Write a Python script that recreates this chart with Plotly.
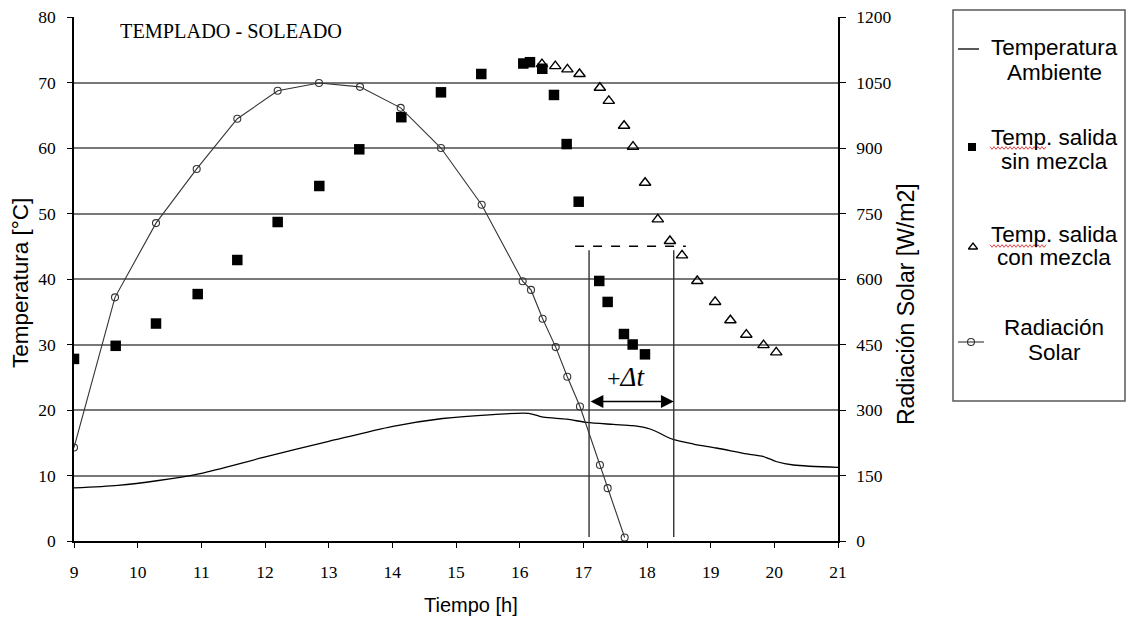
import plotly.graph_objects as go

# ---- data -------------------------------------------------------------
# Temperatura ambiente (line)
amb_h = [9.0, 9.69, 10.30, 10.98, 11.99, 13.0, 14.01, 14.79, 15.58, 16.14, 16.37,
         16.74, 17.05, 17.47, 17.78, 18.05, 18.41, 18.73, 19.09, 19.57, 19.83,
         20.04, 20.30, 21.0]
amb_T = [8.1, 8.5, 9.2, 10.3, 12.8, 15.2, 17.5, 18.7, 19.3, 19.5, 18.9,
         18.6, 18.1, 17.8, 17.6, 17.1, 15.5, 14.8, 14.2, 13.3, 12.9,
         12.1, 11.6, 11.25]

# Temp. salida sin mezcla (filled squares)
sin_h = [9.0, 9.655, 10.288, 10.943, 11.565, 12.199, 12.853, 13.481, 14.141,
         14.764, 15.397, 16.057, 16.162, 16.355, 16.539, 16.738, 16.927,
         17.25, 17.382, 17.638, 17.775, 17.968]
sin_T = [27.8, 29.8, 33.2, 37.7, 42.9, 48.7, 54.2, 59.8, 64.7,
         68.5, 71.3, 72.9, 73.1, 72.1, 68.1, 60.6, 51.8,
         39.7, 36.5, 31.6, 30.0, 28.5]

# Temp. salida con mezcla (open triangles)
con_h = [16.35, 16.56, 16.75, 16.94, 17.26, 17.40, 17.64, 17.78, 17.97,
         18.17, 18.36, 18.55, 18.79, 19.07, 19.31, 19.56, 19.83, 20.03]
con_T = [72.8, 72.5, 72.0, 71.3, 69.2, 67.2, 63.4, 60.2, 54.7,
         49.1, 45.8, 43.6, 39.7, 36.5, 33.7, 31.5, 29.9, 28.8]

# Radiacion solar [W/m2] (right axis)
rad_h = [9.0, 9.644, 10.288, 10.927, 11.565, 12.199, 12.848, 13.492, 14.131,
         14.764, 15.403, 16.047, 16.178, 16.361, 16.566, 16.748, 16.947,
         17.261, 17.382, 17.649]
rad_W = [214, 558, 728, 852, 967, 1031, 1049, 1040, 992,
         900, 770, 595, 575, 509, 444, 376, 308,
         174, 121, 8]

x_ticks = list(range(9, 22))
y_ticks = list(range(0, 81, 10))
y2_ticks = list(range(0, 1201, 150))

# Delta-t construction
dt_start, dt_end = 17.09, 18.42
dt_level = 45.0
dt_dash_from, dt_dash_to = 16.87, 18.61
dt_arrow_T = 21.3

# ---- layout geometry (pixels) ----------------------------------------
W, H = 1128, 620
PX0, PX1 = 74, 838
PY_TOP, PY_BOT = 17, 541

SERIF = "Liberation Serif, Times New Roman, serif"
SANS = "Liberation Sans, Arial, sans-serif"

fig = go.Figure()

fig.add_trace(go.Scatter(
    x=amb_h, y=amb_T, mode="lines", name="Temperatura Ambiente",
    line=dict(color="black", width=1.3, shape="spline", smoothing=0.8),
))
fig.add_trace(go.Scatter(
    x=rad_h, y=rad_W, mode="lines+markers", name="Radiación Solar", yaxis="y2",
    line=dict(color="#333333", width=1.1),
    marker=dict(symbol="circle-open", size=7, color="#333333", line=dict(width=1.1)),
))
fig.add_trace(go.Scatter(
    x=con_h, y=con_T, mode="markers", name="Temp. salida con mezcla",
    marker=dict(symbol="triangle-up-open", size=10, color="black", line=dict(width=1.4)),
))
fig.add_trace(go.Scatter(
    x=sin_h, y=sin_T, mode="markers", name="Temp. salida sin mezcla",
    marker=dict(symbol="square", size=10.5, color="black", line=dict(width=0)),
))

# ---- legend panel drawn on a pixel-mapped helper axis -----------------
LX0 = 940
fig.add_trace(go.Scatter(
    x=[972], y=[147], mode="markers", xaxis="x3", yaxis="y3",
    marker=dict(symbol="square", size=8, color="black"), hoverinfo="skip",
))
fig.add_trace(go.Scatter(
    x=[973], y=[247], mode="markers", xaxis="x3", yaxis="y3",
    marker=dict(symbol="triangle-up-open", size=8, color="black", line=dict(width=1.3)),
    hoverinfo="skip",
))
fig.add_trace(go.Scatter(
    x=[958, 971, 984], y=[342, 342, 342], mode="lines", xaxis="x3", yaxis="y3",
    line=dict(color="#333333", width=1.1), hoverinfo="skip",
))
fig.add_trace(go.Scatter(
    x=[971], y=[342], mode="markers", xaxis="x3", yaxis="y3",
    marker=dict(symbol="circle-open", size=7, color="#333333", line=dict(width=1.1)),
    hoverinfo="skip",
))

shapes = []
# legend frame
shapes.append(dict(type="rect", xref="x3", yref="y3", x0=953, x1=1125, y0=10, y1=401,
                   line=dict(color="#5a5a5a", width=1.5)))
# legend sample for the ambient line
shapes.append(dict(type="line", xref="x3", yref="y3", x0=958, x1=979, y0=49, y1=49,
                   line=dict(color="black", width=1.3)))


def squiggle(x0, x1, y, amp=1.3, step=2.0):
    pts = []
    x = x0
    k = 0
    while x <= x1:
        pts.append((x, y + (amp if k % 2 else -amp)))
        x += step
        k += 1
    return "M " + " L ".join(f"{px:.1f},{py:.1f}" for px, py in pts)


for yy in (148, 246):
    shapes.append(dict(type="path", xref="x3", yref="y3", path=squiggle(990, 1046, yy),
                       line=dict(color="#e03030", width=0.9)))

# delta-t construction on the data axes
shapes.append(dict(type="line", xref="x", yref="y", x0=dt_dash_from, x1=dt_dash_to,
                   y0=dt_level, y1=dt_level, line=dict(color="black", width=1.6, dash="dash")))
for xv in (dt_start, dt_end):
    shapes.append(dict(type="line", xref="x", yref="y", x0=xv, x1=xv, y0=0.6, y1=44.4,
                       line=dict(color="#333333", width=1.4)))

annotations = []
# legend texts
legend_lines = [
    ("Temperatura", 47), ("Ambiente", 72),
    ("Temp. salida", 137), ("sin mezcla", 161),
    ("Temp. salida", 234), ("con mezcla", 257),
    ("Radiación", 327), ("Solar", 352),
]
for txt, yy in legend_lines:
    annotations.append(dict(text=txt, xref="x3", yref="y3", x=1054, y=yy,
                            xanchor="center", yanchor="middle", showarrow=False,
                            font=dict(family=SANS, size=22.5, color="black")))

# chart label
annotations.append(dict(text="TEMPLADO - SOLEADO", xref="paper", yref="paper",
                        x=118 / W, y=(H - 31) / H, xanchor="left", yanchor="middle",
                        showarrow=False, font=dict(family=SERIF, size=20.3, color="black")))

# axis titles
annotations.append(dict(text="Temperatura [°C]", xref="paper", yref="paper",
                        x=20 / W, y=(H - 283) / H, textangle=-90, showarrow=False,
                        xanchor="center", yanchor="middle",
                        font=dict(family=SANS, size=22.5, color="black")))
annotations.append(dict(text="Radiación Solar [W/m2]", xref="paper", yref="paper",
                        x=906 / W, y=(H - 304) / H, textangle=-90, showarrow=False,
                        xanchor="center", yanchor="middle",
                        font=dict(family=SANS, size=23, color="black")))
annotations.append(dict(text="Tiempo [h]", xref="paper", yref="paper",
                        x=471 / W, y=(H - 605) / H, showarrow=False,
                        xanchor="center", yanchor="middle",
                        font=dict(family=SANS, size=20, color="black")))

# double arrow for delta t
annotations.append(dict(x=dt_end, y=dt_arrow_T, ax=dt_start, ay=dt_arrow_T,
                        xref="x", yref="y", axref="x", ayref="y", text="",
                        showarrow=True, arrowside="end+start", arrowhead=2,
                        startarrowhead=2, arrowsize=1.6, startarrowsize=1.6,
                        arrowwidth=1.6, arrowcolor="black", standoff=0, startstandoff=0))
annotations.append(dict(x=17.67, y=25.0, xref="x", yref="y", showarrow=False,
                        text="<span style='font-size:24px'>+</span><i>Δt</i>",
                        font=dict(family=SERIF, size=27, color="black")))

axis_font = dict(family=SERIF, size=17.5, color="black")

fig.update_layout(
    width=W, height=H,
    margin=dict(l=0, r=0, t=0, b=0),
    paper_bgcolor="white", plot_bgcolor="rgba(0,0,0,0)",
    showlegend=False,
    xaxis=dict(domain=[PX0 / W, PX1 / W], range=[9, 21], tickvals=x_ticks,
               ticks="outside", ticklen=5, tickwidth=1.3, tickcolor="black",
               showline=True, linecolor="black", linewidth=1.5, showgrid=False,
               zeroline=False, tickfont=axis_font, ticklabelstandoff=9,
               anchor="y", automargin=False),
    yaxis=dict(domain=[(H - PY_BOT) / H, (H - PY_TOP) / H], range=[0, 80],
               tickvals=y_ticks, ticks="outside", ticklen=5, tickwidth=1.3,
               tickcolor="black", showline=True, linecolor="black", linewidth=1.5,
               showgrid=True, gridcolor="#787878", gridwidth=1.5, zeroline=False,
               tickfont=axis_font, ticklabelstandoff=8, anchor="x", automargin=False),
    yaxis2=dict(overlaying="y", side="right", range=[0, 1200], tickvals=y2_ticks,
                ticks="outside", ticklen=6, tickwidth=1.3, tickcolor="black",
                showline=True, linecolor="black", linewidth=1.5, showgrid=False,
                zeroline=False, tickfont=axis_font, ticklabelstandoff=7,
                anchor="x", automargin=False),
    xaxis3=dict(domain=[LX0 / W, 1], range=[LX0, W], visible=False, anchor="y3",
                fixedrange=True),
    yaxis3=dict(domain=[0, 1], range=[H, 0], visible=False, anchor="x3",
                fixedrange=True),
    shapes=shapes,
    annotations=annotations,
)

fig.write_html("out.html")
